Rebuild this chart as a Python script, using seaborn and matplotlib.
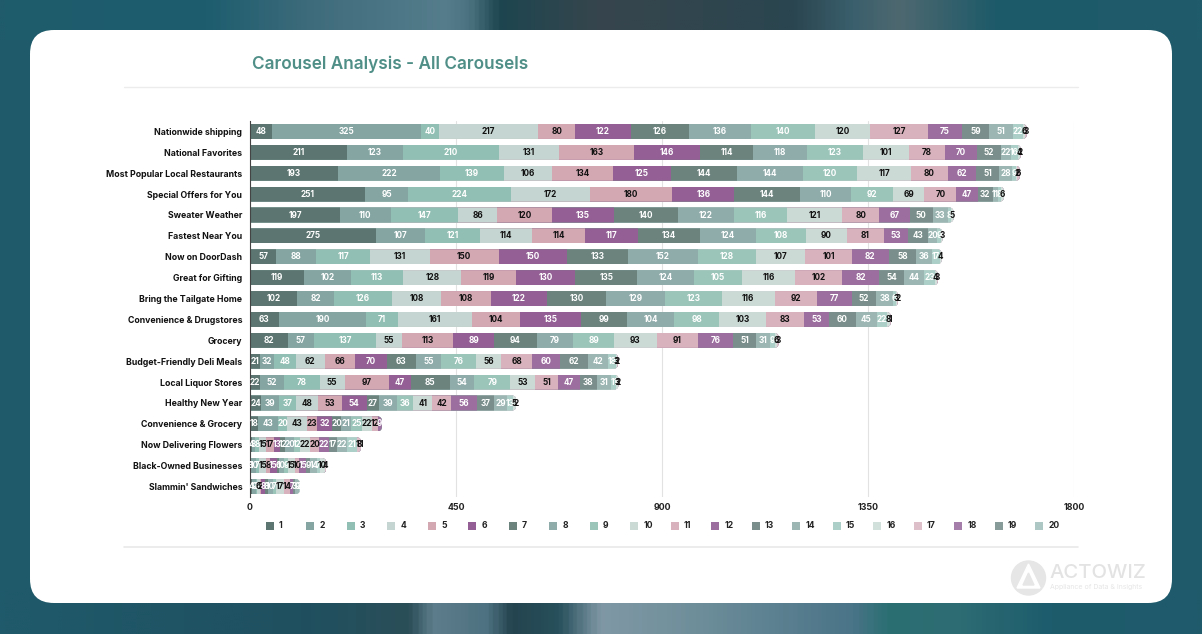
import numpy as np
import pandas as pd
import matplotlib.pyplot as plt
import seaborn as sns
from matplotlib.colors import LinearSegmentedColormap
from matplotlib.patches import Circle, FancyBboxPatch, Polygon, Rectangle

carousels = [
    "Nationwide shipping", "National Favorites", "Most Popular Local Restaurants",
    "Special Offers for You", "Sweater Weather", "Fastest Near You", "Now on DoorDash",
    "Great for Gifting", "Bring the Tailgate Home", "Convenience & Drugstores", "Grocery",
    "Budget-Friendly Deli Meals", "Local Liquor Stores", "Healthy New Year",
    "Convenience & Grocery", "Now Delivering Flowers", "Black-Owned Businesses",
    "Slammin' Sandwiches",
]

nationwide = [48, 325, 40, 217, 80, 122, 126, 136, 140, 120, 127, 75, 59, 51, 22, 6, 3]
national = [211, 123, 210, 131, 163, 146, 114, 118, 123, 101, 78, 70, 52, 22, 16, 4, 2]
popular = [193, 222, 139, 106, 134, 125, 144, 144, 120, 117, 80, 62, 51, 28, 9, 2, 6]
offers = [251, 95, 224, 172, 180, 136, 144, 110, 92, 69, 70, 47, 32, 11, 8, 6]
sweater = [197, 110, 147, 86, 120, 135, 140, 122, 116, 121, 80, 67, 50, 33, 8, 5]
fastest = [275, 107, 121, 114, 114, 117, 134, 124, 108, 90, 81, 53, 43, 20, 9, 3]
doordash = [57, 88, 117, 131, 150, 150, 133, 152, 128, 107, 101, 82, 58, 36, 17, 4]
gifting = [119, 102, 113, 128, 119, 130, 135, 124, 105, 116, 102, 82, 54, 44, 23, 4, 3]
tailgate = [102, 82, 126, 108, 108, 122, 130, 129, 123, 116, 92, 77, 52, 38, 6, 3, 2]
drugstores = [63, 190, 71, 161, 104, 135, 99, 104, 98, 103, 83, 53, 60, 45, 22, 8, 1]
grocery = [82, 57, 137, 55, 113, 89, 94, 79, 89, 93, 91, 76, 51, 31, 9, 6, 3]
deli = [21, 32, 48, 62, 66, 70, 63, 55, 76, 56, 68, 60, 62, 42, 18, 3, 2]
liquor = [22, 52, 78, 55, 97, 47, 85, 54, 79, 53, 51, 47, 38, 31, 11, 3, 2]
new_year = [24, 39, 37, 48, 53, 54, 27, 39, 36, 41, 42, 56, 37, 29, 13, 5, 2]
conv_grocery = [18, 43, 20, 43, 23, 32, 20, 21, 25, 22, 12, 9]
flowers = [4, 8, 8, 15, 17, 13, 12, 20, 12, 22, 20, 22, 17, 22, 21, 1, 8, 1]
black_owned = [3, 10, 7, 15, 8, 15, 6, 10, 9, 15, 10, 15, 9, 14, 7, 10, 4]
sandwiches = [4, 9, 3, 6, 2, 8, 8, 10, 7, 17, 14, 7, 3, 9, 2]

series_names = [str(i) for i in range(1, 21)]
colors = ["#5c7570", "#85a5a2", "#92bfb3", "#c5d5d1", "#d3a8b3", "#945f95", "#6b827d",
          "#8fabaa", "#9cc5ba", "#ccdad6", "#d8b2bc", "#9c6e9f", "#7a8f8b", "#9cb7b3",
          "#acd0c7", "#d2e0dc", "#dcbfc9", "#a57ea9", "#879c98", "#acc7c4"]
dark_text = ["4", "5", "10", "11", "16", "17", "18"]
xticks = [0, 450, 900, 1350, 1800]

rows = [nationwide, national, popular, offers, sweater, fastest, doordash, gifting, tailgate,
        drugstores, grocery, deli, liquor, new_year, conv_grocery, flowers, black_owned, sandwiches]
df = pd.DataFrame(rows, index=carousels, columns=series_names[:18]).fillna(0)
df = df.reindex(columns=series_names, fill_value=0)
cum = df.cumsum(axis=1)

sns.set_theme(style="white")
plt.rcParams["font.family"] = ["Inter", "DejaVu Sans"]

fig = plt.figure(figsize=(12.02, 6.34), dpi=100)

# page layer, drawn in pixel coordinates
bg = fig.add_axes([0, 0, 1, 1], zorder=0)
bg.axis("off")
top_cmap = LinearSegmentedColormap.from_list("top", [
    (0, "#1f5b6b"), (0.17, "#1d5d6e"), (0.26, "#3f6c7c"), (0.37, "#557d8c"), (0.39, "#4a7280"),
    (0.415, "#1d4650"), (0.5, "#37454d"), (0.66, "#2a4550"), (0.71, "#3a5f6c"), (0.75, "#4e6870"),
    (0.83, "#1d5a69"), (1, "#1f5b6b")])
bot_cmap = LinearSegmentedColormap.from_list("bot", [
    (0, "#1f5a6b"), (0.25, "#1f5060"), (0.34, "#2b4e58"), (0.36, "#5e7d8c"), (0.405, "#4d7180"),
    (0.425, "#24444f"), (0.465, "#27505c"), (0.5, "#8098a6"), (0.58, "#6e8e9a"), (0.71, "#4a7488"),
    (0.74, "#2b6f72"), (0.8, "#2d6c73"), (0.875, "#1d5c6c"), (1, "#1f5a6b")])
ramp = np.linspace(0, 1, 600)[None, :]
bg.add_patch(Rectangle((0, 0), 1202, 634, color="#1f5a6b", zorder=0))
bg.imshow(ramp, extent=(0, 1202, 40, 0), cmap=top_cmap, aspect="auto", zorder=1)
bg.imshow(ramp, extent=(0, 1202, 634, 590), cmap=bot_cmap, aspect="auto", zorder=1)
bg.set_xlim(0, 1202)
bg.set_ylim(634, 0)
bg.add_patch(FancyBboxPatch((54, 54), 1094, 525, boxstyle="round,pad=24,rounding_size=24",
                            fc="white", ec="none", zorder=2))
bg.plot([124, 1078], [87, 87], color="#ececec", lw=1, zorder=3)
bg.plot([124, 1078], [547, 547], color="#e9e9e9", lw=1.2, zorder=3)
bg.text(252.5, 64, "Carousel Analysis - All Carousels", color="#4f8f87", fontsize=12.4,
        fontweight="semibold", va="center", zorder=3)

# legend row
for i, name in enumerate(series_names):
    x = 269.5 + i * 40.5
    bg.add_patch(Rectangle((x - 4, 522), 8, 8, color=colors[i], lw=0, zorder=3))
    bg.text(x + 9.5, 526, name, fontsize=6.2, fontweight="bold", color="#222222",
            va="center", zorder=3)

# watermark
bg.add_patch(Circle((1028.5, 578), 17, color="#e6e6e6", zorder=3))
bg.add_patch(Polygon([(1028.5, 564), (1017, 588), (1040, 588)], closed=True, color="white", zorder=3))
bg.add_patch(Polygon([(1028.5, 573), (1023, 585), (1034, 585)], closed=True, color="#e6e6e6", zorder=3))
bg.text(1050, 573, "ACTOWIZ", color="#e3e3e3", fontsize=14.6, fontweight="medium", va="center", zorder=3)
bg.text(1050, 587, "Appliance of Data & Insights", color="#e6e6e6", fontsize=5, va="center", zorder=3)

# the chart
ax = fig.add_axes([250 / 1202, 1 - 497 / 634, 824 / 1202, 376 / 634], zorder=1)
ax.patch.set_alpha(0)
ax.set_axisbelow(True)
for i in range(len(series_names) - 1, -1, -1):
    sns.barplot(x=cum[series_names[i]].values, y=carousels, color=colors[i], saturation=1,
                width=0.72, orient="h", linewidth=0, edgecolor="none", ax=ax)

ax.set_xlim(0, 1800)
ax.set_ylim(17.5, -0.5)

# rounded right ends of the stacks
for container in ax.containers:
    for r, bar in enumerate(container):
        cap = FancyBboxPatch((-60, r - 0.36), 60 + df.iloc[r].sum(), 0.72,
                             boxstyle="round,pad=0,rounding_size=11", mutation_aspect=0.0218,
                             transform=ax.transData)
        bar.set_clip_path(cap)

for r, name in enumerate(carousels):
    left = 0
    for s in series_names:
        v = df.loc[name, s]
        if v > 0:
            ax.text(left + v / 2, r, str(int(v)), ha="center", va="center", fontsize=5.9,
                    fontweight="bold", color="#111111" if s in dark_text else "white")
        left += v

ax.set_xticks(xticks)
ax.xaxis.grid(True, color="#e2e2e2", lw=0.8)
ax.yaxis.grid(False)
ax.tick_params(axis="x", length=2, width=0.8, color="#bbbbbb", pad=2, labelsize=6.4, labelcolor="#222222")
ax.tick_params(axis="y", length=0, pad=5.5, labelsize=6.3, labelcolor="#111111")
for lab in ax.get_xticklabels() + ax.get_yticklabels():
    lab.set_fontweight("bold")
sns.despine(ax=ax, top=True, right=True, bottom=True)
ax.spines["left"].set_color("#444444")
ax.spines["left"].set_linewidth(0.8)
ax.set_xlabel("")
ax.set_ylabel("")

fig.savefig("out.png", dpi=100)
